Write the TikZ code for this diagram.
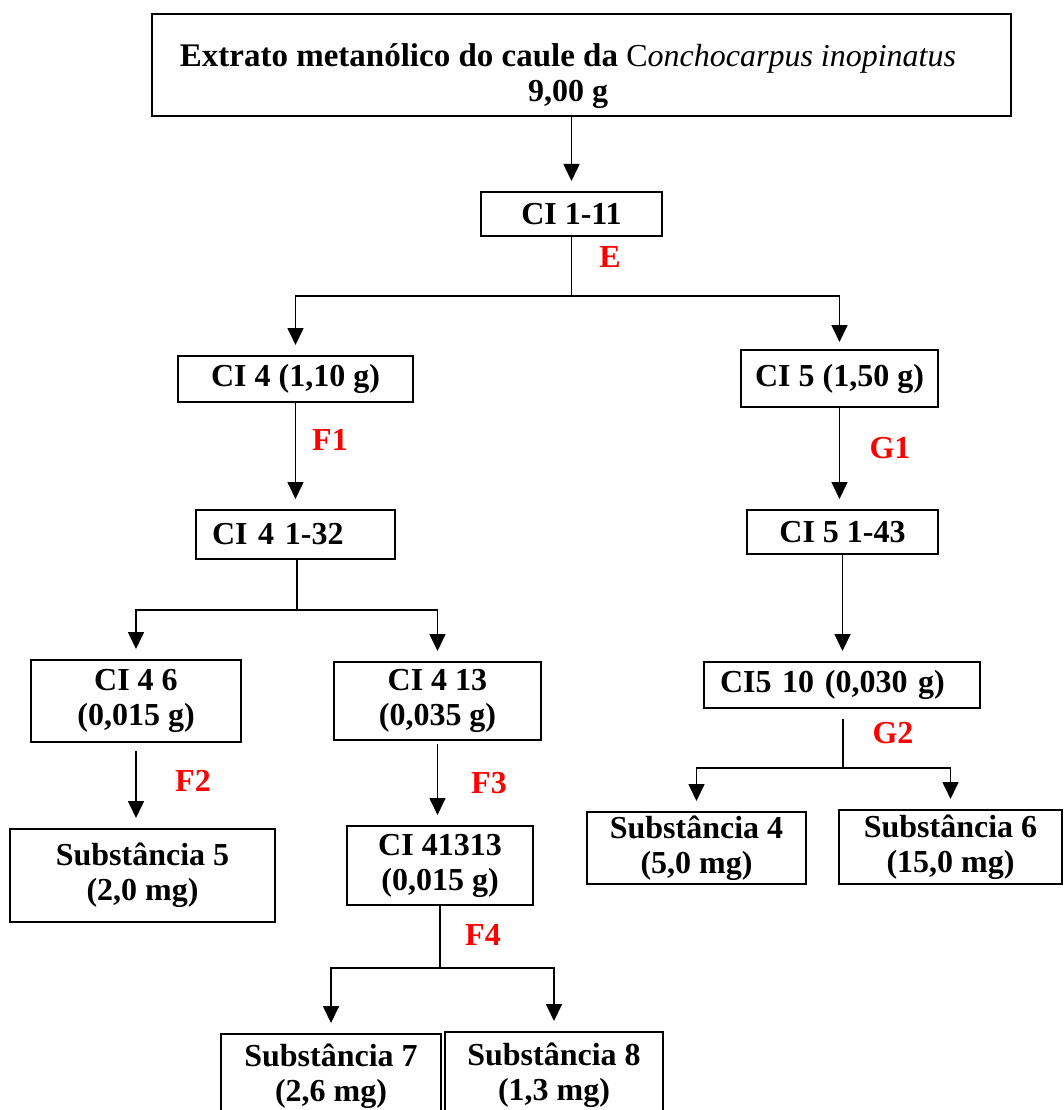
\documentclass[tikz,border=0pt]{standalone}
\usepackage{fontspec}
\setmainfont{Liberation Serif}
\usetikzlibrary{arrows.meta,positioning,calc}
\definecolor{labred}{RGB}{255,0,0}

\begin{document}
\begin{tikzpicture}[x=1pt, y=-1pt,
  font=\fontsize{32}{35}\selectfont\bfseries, >={Triangle[length=17pt, width=16pt]},
  box/.style={draw, line width=2pt, align=center, inner sep=0pt},
  boxl/.style={draw, line width=2pt, align=left, inner ysep=0pt, inner xsep=16pt, text width=#1},
  elu/.style={text=labred, inner sep=0pt},
  flow/.style={->, line width=1.7pt, shorten >=10pt},
  link/.style={line width=1.7pt},
]
\clip (0,0) rectangle (1063,1110);
\node[box, minimum width=859, minimum height=102] (extr) at (581.5,65) {};
\node[align=center, inner sep=0pt] (extrtxt) at (568,76)
  {{\fontsize{33}{35}\selectfont Extrato metanólico do caule da }{\fontsize{32}{35}\selectfont\mdseries
  C\itshape onchocarpus inopinatus}\\9,00 g};
\node[box, minimum width=181, minimum height=44] (ci111) at (571.5,214) {CI 1-11};
\node[box, minimum width=235, minimum height=46] (ci4) at (295.5,379) {CI 4 (1,10 g)};
\node[box, minimum width=197, minimum height=57] (ci5) at (839.5,378.5) {CI 5 (1,50 g)};
\node[boxl=167, minimum height=49] (ci4132) at (295.5,534.5) {CI 4 1-32};
\node[box, minimum width=191, minimum height=44] (ci5143) at (842.5,532) {CI 5 1-43};
\node[box, minimum width=210, minimum height=82] (ci46) at (136,701) {CI 4 6\\(0,015 g)};
\node[box, minimum width=207, minimum height=78] (ci413) at (437.5,701) {CI 4 13\\(0,035 g)};
\node[boxl=244, minimum height=46] (ci510) at (842,685) {CI5 10 (0,030 g)};
\node[box, minimum width=219, minimum height=72] (sub4) at (696.5,848) {Substância 4\\(5,0 mg)};
\node[box, minimum width=223, minimum height=74] (sub6) at (950.5,847) {Substância 6\\(15,0 mg)};
\node[box, minimum width=265, minimum height=93] (sub5) at (142.5,875.5) {Substância 5\\(2,0 mg)};
\node[box, minimum width=186, minimum height=79] (ci41313) at (440,865.5) {CI 41313\\(0,015 g)};
\node[box, minimum width=220, minimum height=84] (sub7) at (331,1076) {Substância 7\\(2,6 mg)};
\node[box, minimum width=218, minimum height=86] (sub8) at (554,1075) {Substância 8\\(1,3 mg)};
% eluentes
\node[elu] (lE) at (610,257) {E};
\node[elu] (lF1) at (330,440) {F1};
\node[elu] (lG1) at (890,448) {G1};
\node[elu] (lF2) at (193,781) {F2};
\node[elu] (lF3) at (489,783) {F3};
\node[elu] (lG2) at (893,733) {G2};
\node[elu] (lF4) at (483,935) {F4};
% ramificacoes
\coordinate (j1) at (571.5,296);
\coordinate (j2) at (297,610);
\coordinate (j3) at (843,768);
\coordinate (j4) at (440,968);
\draw[flow] (extr.south -| ci111) -- (ci111.north);
\draw[link] (ci111.south) -- (j1);
\draw[flow] (j1) -| (ci4.north);
\draw[flow, shorten >=7pt] (j1) -| (ci5.north);
\draw[flow] (ci4.south) -- (ci4132.north);
\draw[flow] (ci5.south) -- (ci5.south |- ci5143.north);
\draw[link] (ci4132.south -| j2) -- (j2);
\draw[flow] (j2) -| (ci46.north);
\draw[flow] (j2) -| (ci413.north);
\draw[flow] (ci5143.south) -- (ci5143.south |- ci510.north);
\draw[link, shorten <=10pt] (ci510.south -| j3) -- (j3);
\draw[flow] (j3) -| (sub4.north);
\draw[flow] (j3) -| (sub6.north);
\draw[flow, shorten <=8pt] (ci46.south) -- (sub5.north -| ci46.south);
\draw[flow, shorten <=3pt] (ci413.south) -- (ci413.south |- ci41313.north);
\draw[link] (ci41313.south) -- (j4);
\draw[flow] (j4) -| (sub7.north);
\draw[flow] (j4) -| (sub8.north);
\end{tikzpicture}
\end{document}
